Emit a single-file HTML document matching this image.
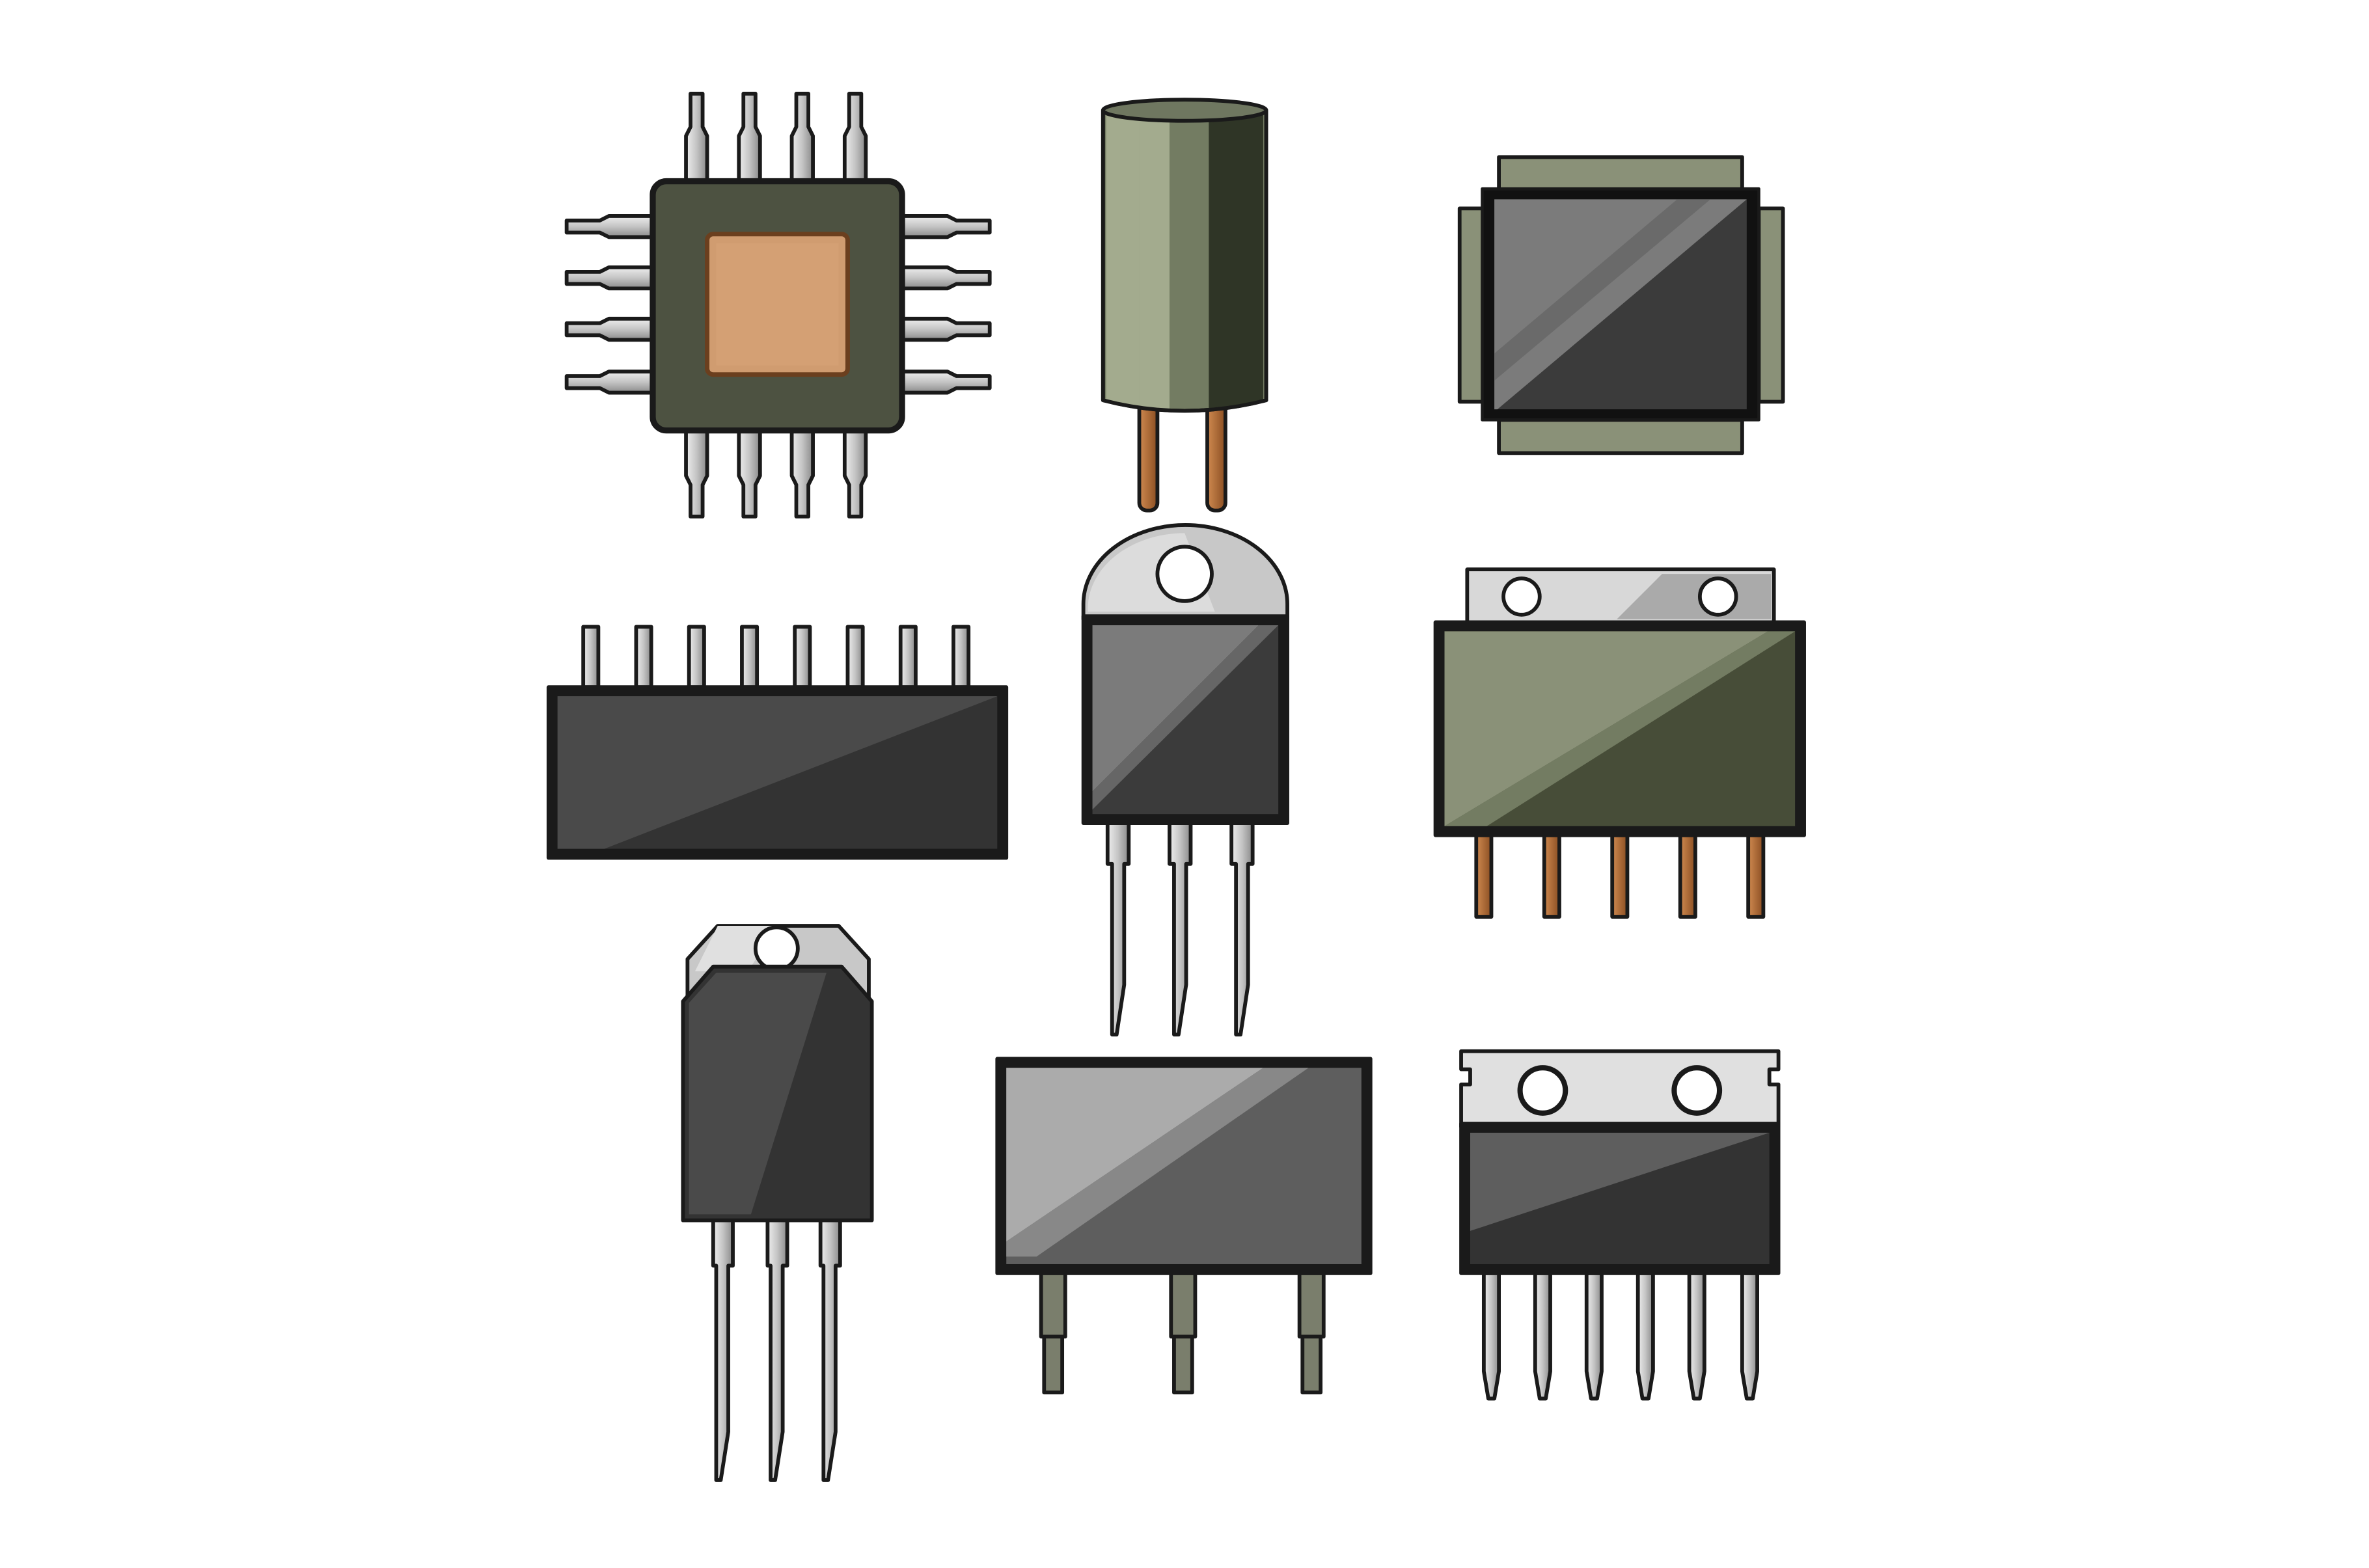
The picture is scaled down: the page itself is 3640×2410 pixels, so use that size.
<!DOCTYPE html>
<html><head><meta charset="utf-8"><style>html,body{margin:0;padding:0;background:#fff}svg{display:block}</style></head>
<body>
<svg width="3640" height="2410" viewBox="0 0 1560 1033" preserveAspectRatio="none" xmlns="http://www.w3.org/2000/svg">
<defs>
<linearGradient id="pin" x1="0" x2="1"><stop offset="0" stop-color="#eee"/><stop offset="0.5" stop-color="#c4c4c4"/><stop offset="1" stop-color="#8a8a8a"/></linearGradient>
<linearGradient id="cu" x1="0" x2="1"><stop offset="0" stop-color="#d08a50"/><stop offset="1" stop-color="#8a4e22"/></linearGradient>
<linearGradient id="pinh" y1="0" y2="1" x1="0" x2="0"><stop offset="0" stop-color="#eee"/><stop offset="0.5" stop-color="#c4c4c4"/><stop offset="1" stop-color="#8a8a8a"/></linearGradient>
</defs>
<rect width="1560" height="1033" fill="#fff"/>
<g transform="scale(0.995)" stroke="#1a1a1a" stroke-width="2.5" stroke-linejoin="round">
<!-- 1 CPU -->
<g fill="url(#pin)">
<path d="M457 62h8v22l3 6v30h-14v-30l3-6z"/><path d="M492 62h8v22l3 6v30h-14v-30l3-6z"/><path d="M527 62h8v22l3 6v30h-14v-30l3-6z"/><path d="M562 62h8v22l3 6v30h-14v-30l3-6z"/>
<path d="M454 285h14v30l-3 6v21h-8v-21l-3-6z"/><path d="M489 285h14v30l-3 6v21h-8v-21l-3-6z"/><path d="M524 285h14v30l-3 6v21h-8v-21l-3-6z"/><path d="M559 285h14v30l-3 6v21h-8v-21l-3-6z"/>
</g>
<g fill="url(#pinh)">
<path d="M375 146h22l6-3h29v14h-29l-6-3h-22z"/><path d="M375 180h22l6-3h29v14h-29l-6-3h-22z"/><path d="M375 214h22l6-3h29v14h-29l-6-3h-22z"/><path d="M375 249h22l6-3h29v14h-29l-6-3h-22z"/>
<path d="M655 146h-22l-6-3h-30v14h30l6-3h22z"/><path d="M655 180h-22l-6-3h-30v14h30l6-3h22z"/><path d="M655 214h-22l-6-3h-30v14h30l6-3h22z"/><path d="M655 249h-22l-6-3h-30v14h30l6-3h22z"/>
</g>
<rect x="432" y="120" width="165" height="165" rx="9" fill="#4d5241" stroke-width="4"/>
<rect x="468" y="155" width="93" height="93" rx="4" fill="#d09c70" stroke="#6b3f1e" stroke-width="3"/>
<rect x="474" y="161" width="81" height="81" fill="#d4a074" stroke="none"/>
<!-- 2 capacitor -->
<rect x="754" y="265" width="12" height="73" rx="5" fill="url(#cu)"/>
<rect x="799" y="265" width="12" height="73" rx="5" fill="url(#cu)"/>
<path d="M730 73v192q54 14 108 0v-192z" fill="#737c62"/>
<path d="M732 75v190q15 4 22 5v-195z" fill="#a3ab8e" stroke="none"/>
<path d="M754 75v195q10 2 20 2v-197z" fill="#a3ab8e" stroke="none"/>
<path d="M800 75v196q25-2 36-6v-190z" fill="#2f3526" stroke="none"/>
<path d="M730 73v192q54 14 108 0v-192" fill="none"/>
<ellipse cx="784" cy="73" rx="54" ry="7" fill="#6f7760"/>
<!-- 3 QFP -->
<rect x="992" y="104" width="161" height="22" fill="#8a9178"/>
<rect x="992" y="278" width="161" height="22" fill="#8a9178"/>
<rect x="966" y="138" width="16" height="128" fill="#8a9178"/>
<rect x="1164" y="138" width="16" height="128" fill="#8a9178"/>
<rect x="981" y="125" width="183" height="153" fill="#111" stroke-width="2"/>
<rect x="989" y="132" width="167" height="139" fill="#3b3b3b" stroke="none"/>
<path d="M989 132h167l-165 139h-2z" fill="#7b7b7b" stroke="none"/>
<path d="M1110 132h22l-143 120v-18z" fill="#6a6a6a" stroke="none"/>
<!-- 4 DIP -->
<g fill="url(#pin)">
<rect x="386" y="415" width="10" height="40"/><rect x="421" y="415" width="10" height="40"/><rect x="456" y="415" width="10" height="40"/><rect x="491" y="415" width="10" height="40"/><rect x="526" y="415" width="10" height="40"/><rect x="561" y="415" width="10" height="40"/><rect x="596" y="415" width="10" height="40"/><rect x="631" y="415" width="10" height="40"/>
</g>
<rect x="363" y="455" width="303" height="113" fill="#1a1a1a"/>
<rect x="369" y="461" width="291" height="101" fill="#333" stroke="none"/>
<path d="M369 461h291l-260 101h-31z" fill="#4a4a4a" stroke="none"/>
<!-- 5 TO-220 -->
<g fill="url(#pin)">
<path d="M733 545h14v27h-3v80l-5 33h-3v-113h-3z"/><path d="M774 545h14v27h-3v80l-5 33h-3v-113h-3z"/><path d="M815 545h14v27h-3v80l-5 33h-3v-113h-3z"/>
</g>
<path d="M717 410v-10a67 52 0 0 1 135 0v10z" fill="#c8c8c8"/>
<path d="M720 405a64 50 0 0 1 64-52l20 52z" fill="#dcdcdc" stroke="none"/>
<circle cx="784" cy="380" r="18" fill="#fff"/>
<rect x="717" y="408" width="135" height="137" fill="#1a1a1a"/>
<rect x="723" y="414" width="123" height="125" fill="#3b3b3b" stroke="none"/>
<path d="M723 414h110l-110 110z" fill="#7b7b7b" stroke="none"/>
<path d="M833 414h13l-123 122v-12z" fill="#666" stroke="none"/>
<!-- 6 green module -->
<g fill="url(#cu)">
<rect x="977" y="553" width="10" height="54"/><rect x="1022" y="553" width="10" height="54"/><rect x="1067" y="553" width="10" height="54"/><rect x="1112" y="553" width="10" height="54"/><rect x="1157" y="553" width="10" height="54"/>
</g>
<rect x="971" y="377" width="203" height="36" fill="#d8d8d8"/>
<path d="M1100 380h72v30h-102z" fill="#aaa" stroke="none"/>
<circle cx="1007" cy="395" r="12" fill="#fff"/><circle cx="1137" cy="395" r="12" fill="#fff"/>
<rect x="950" y="412" width="244" height="141" fill="#1a1a1a"/>
<rect x="956" y="418" width="232" height="129" fill="#474d38" stroke="none"/>
<path d="M956 418h214l-214 129z" fill="#8a9178" stroke="none"/>
<path d="M1170 418h18l-204 129h-28z" fill="#737c62" stroke="none"/>
<!-- 7 TO-247 -->
<g fill="url(#pin)">
<path d="M472 808h13v30h-3v110l-5 32h-3v-142h-2z"/><path d="M508 808h13v30h-3v110l-5 32h-3v-142h-2z"/><path d="M543 808h13v30h-3v110l-5 32h-3v-142h-2z"/>
</g>
<path d="M455 660v-25l20-22h80l20 22v25z" fill="#c8c8c8"/>
<path d="M475 613h40l-20 30h-35z" fill="#e0e0e0" stroke="none"/>
<circle cx="514" cy="628" r="14" fill="#fff"/>
<path d="M452 808v-145l20-23h85l20 23v145z" fill="#333"/>
<path d="M456 804v-140l18-20h73l-50 160z" fill="#4a4a4a" stroke="none"/>
<!-- 8 large module -->
<g fill="#7a7e6c">
<rect x="689" y="843" width="16" height="42"/><rect x="691" y="885" width="12" height="37"/>
<rect x="775" y="843" width="16" height="42"/><rect x="777" y="885" width="12" height="37"/>
<rect x="860" y="843" width="16" height="42"/><rect x="862" y="885" width="12" height="37"/>
</g>
<rect x="660" y="701" width="247" height="142" fill="#1a1a1a"/>
<rect x="666" y="707" width="235" height="130" fill="#5e5e5e" stroke="none"/>
<path d="M666 707h170l-170 115z" fill="#ababab" stroke="none"/>
<path d="M836 707h30l-180 125h-20v-10z" fill="#888" stroke="none"/>
<!-- 9 bottom right -->
<g fill="url(#pin)">
<path d="M982 843h10v65l-3 18h-4l-3-18z"/><path d="M1016 843h10v65l-3 18h-4l-3-18z"/><path d="M1050 843h10v65l-3 18h-4l-3-18z"/><path d="M1084 843h10v65l-3 18h-4l-3-18z"/><path d="M1118 843h10v65l-3 18h-4l-3-18z"/><path d="M1153 843h10v65l-3 18h-4l-3-18z"/>
</g>
<path d="M967 696h210v12h-6v10h6v28h-210v-28h6v-10h-6z" fill="#e0e0e0"/>
<circle cx="1021" cy="722" r="15" fill="#fff" stroke-width="3.5"/><circle cx="1123" cy="722" r="15" fill="#fff" stroke-width="3.5"/>
<rect x="967" y="744" width="210" height="99" fill="#1a1a1a"/>
<rect x="973" y="750" width="198" height="87" fill="#333" stroke="none"/>
<path d="M973 750h198l-198 65z" fill="#5e5e5e" stroke="none"/>
</g>
</svg>
</body></html>
